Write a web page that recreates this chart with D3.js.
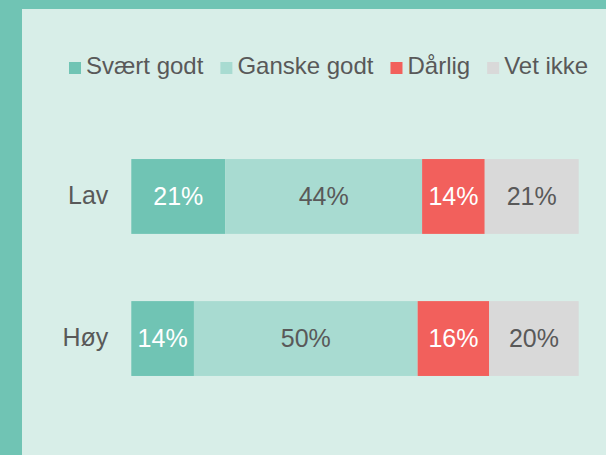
<!DOCTYPE html>
<html>
<head>
<meta charset="utf-8">
<script src="https://cdn.jsdelivr.net/npm/d3@7"></script>
<style>
  html, body { margin: 0; padding: 0; background: #d8eee8; }
  svg { display: block; }
  text { font-family: "Liberation Sans", Arial, sans-serif; }
</style>
</head>
<body>
<svg id="chart" width="606" height="455"></svg>
<script>
// Survey answers by group, in percent
const categories = ["Lav", "Høy"];
const seriesNames = ["Svært godt", "Ganske godt", "Dårlig", "Vet ikke"];
const svaertGodt = [21, 14];
const ganskeGodt = [44, 50];
const daarlig = [14, 16];
const vetIkke = [21, 20];

const seriesValues = [svaertGodt, ganskeGodt, daarlig, vetIkke];
const seriesColors = ["#70c4b4", "#a8dbd1", "#f2605c", "#d9d9d9"];
const labelColors = ["#ffffff", "#595959", "#ffffff", "#595959"];

const W = 606, H = 455;
const svg = d3.select("#chart");

// Frame: panel background with accent strips on the left and top
svg.append("rect").attr("x", 0).attr("y", 0).attr("width", W).attr("height", H).attr("fill", "#d8eee8");
svg.append("rect").attr("x", 0).attr("y", 0).attr("width", 22).attr("height", H).attr("fill", "#70c4b4");
svg.append("rect").attr("x", 0).attr("y", 0).attr("width", W).attr("height", 9).attr("fill", "#70c4b4");

const x = d3.scaleLinear().domain([0, 100]).range([131.3, 578.7]);
const y = d3.scaleBand().domain(categories).range([88, 447]).paddingInner(0.473).paddingOuter(0.5);

// Stack the series per category
const rows = categories.map((c, i) => {
  const row = { cat: c };
  seriesNames.forEach((s, j) => { row[s] = seriesValues[j][i]; });
  return row;
});
const stacked = d3.stack().keys(seriesNames)(rows);

const layers = svg.append("g").selectAll("g")
  .data(stacked).join("g")
  .attr("fill", (d, i) => seriesColors[i]);

layers.selectAll("rect")
  .data(d => d).join("rect")
  .attr("x", d => x(d[0]))
  .attr("y", d => y(d.data.cat))
  .attr("width", d => x(d[1]) - x(d[0]))
  .attr("height", y.bandwidth());

// Value labels centred in each segment
svg.append("g").selectAll("g")
  .data(stacked).join("g")
  .attr("fill", (d, i) => labelColors[i])
  .selectAll("text")
  .data(d => d).join("text")
  .attr("x", d => (x(d[0]) + x(d[1])) / 2)
  .attr("y", d => y(d.data.cat) + y.bandwidth() / 2)
  .attr("dy", "0.35em")
  .attr("text-anchor", "middle")
  .attr("font-size", 25)
  .text(d => (d[1] - d[0]) + "%");

// Category axis
const yAxis = svg.append("g")
  .attr("transform", `translate(${x(0) - 23},0)`)
  .call(d3.axisLeft(y).tickSize(0).tickPadding(0));
yAxis.select(".domain").remove();
yAxis.selectAll("text")
  .attr("font-size", 25)
  .attr("fill", "#595959")
  .attr("dy", "0.29em")
  .style("font-family", "'Liberation Sans', Arial, sans-serif");

// Legend
const legend = svg.append("g").attr("transform", "translate(69,0)");
let lx = 0;
seriesNames.forEach((s, i) => {
  const g = legend.append("g").attr("transform", `translate(${lx},0)`);
  g.append("rect").attr("x", 0).attr("y", 62).attr("width", 12).attr("height", 12).attr("fill", seriesColors[i]);
  const t = g.append("text").attr("x", 17).attr("y", 74)
    .attr("font-size", 24).attr("fill", "#595959").text(s);
  lx += 17 + t.node().getComputedTextLength() + 17;
});
</script>
</body>
</html>
